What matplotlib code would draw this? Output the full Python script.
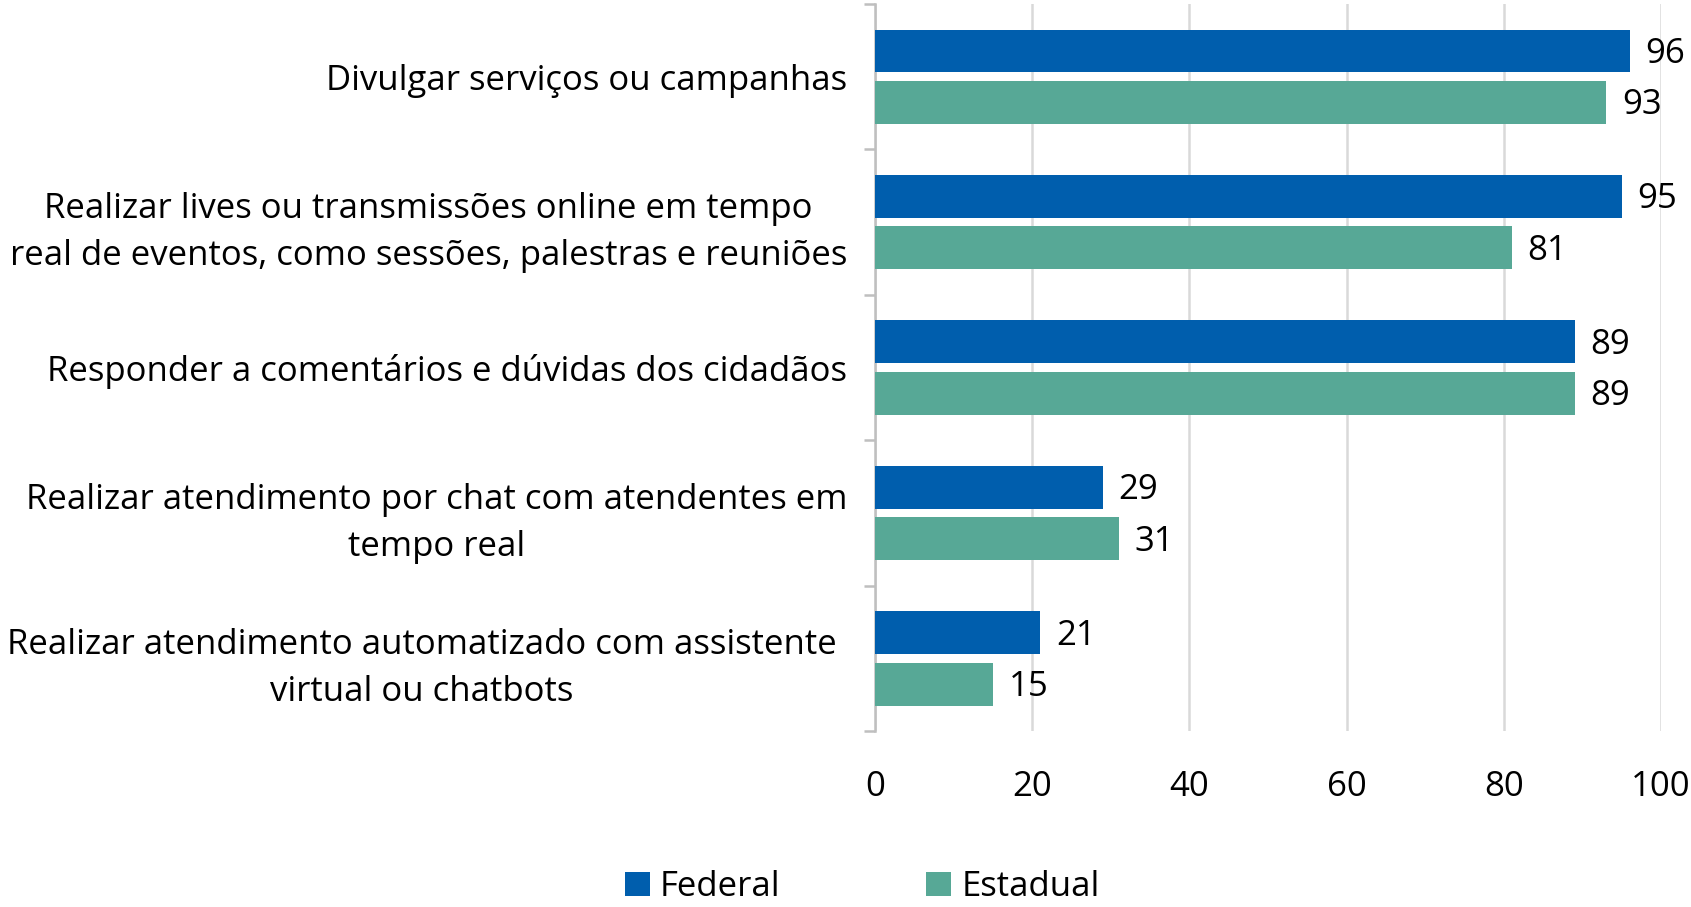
import matplotlib
matplotlib.use("Agg")
import matplotlib.pyplot as plt
import matplotlib.transforms as mtransforms
import numpy as np

plt.rcParams['font.family'] = ['Open Sans', 'DejaVu Sans']

categories = [
    "Divulgar serviços ou campanhas",
    "Realizar lives ou transmissões online em tempo\nreal de eventos, como sessões, palestras e reuniões",
    "Responder a comentários e dúvidas dos cidadãos",
    "Realizar atendimento por chat com atendentes em\ntempo real",
    "Realizar atendimento automatizado com assistente\nvirtual ou chatbots",
]
federal = [96, 95, 89, 29, 21]
estadual = [93, 81, 89, 31, 15]

c_fed = "#005EAD"
c_est = "#57A896"
fs = 25

fig = plt.figure(figsize=(16.91, 9.07), dpi=100)
ax = fig.add_axes([0.5175, 0.194, 0.4648, 0.8015])

y = np.arange(len(categories))
h = 0.295
off = 0.177
ax.barh(y - off, federal, height=h, color=c_fed, label="Federal", zorder=3)
ax.barh(y + off, estadual, height=h, color=c_est, label="Estadual", zorder=3)

for i in range(len(categories)):
    ax.text(federal[i] + 2.0, y[i] - off + 0.02, str(federal[i]), va="center", ha="left", fontsize=fs)
    ax.text(estadual[i] + 2.0, y[i] + off + 0.02, str(estadual[i]), va="center", ha="left", fontsize=fs)

ax.set_xlim(0, 100)
ax.set_ylim(len(categories) - 0.5, -0.5)
ax.set_xticks([0, 20, 40, 60, 80, 100])
ax.tick_params(axis="x", length=0, labelsize=fs, pad=28)
ax.xaxis.grid(True, color="#d9d9d9", linewidth=1.8, zorder=0)

# group boundary ticks on the left, labels at the group centres
ax.set_yticks(np.arange(len(categories) + 1) - 0.5)
ax.set_yticklabels([])
ax.set_yticks(y, minor=True)
ax.set_yticklabels(categories, minor=True, fontsize=fs, ha="right", multialignment="center")
ax.tick_params(axis="y", which="major", length=8, width=1.8, color="#bfbfbf")
ax.tick_params(axis="y", which="minor", length=0, pad=20)
for lbl in ax.get_yticklabels(minor=True):
    lbl.set_linespacing(1.5)
last = ax.get_yticklabels(minor=True)[-1]
last.set_transform(last.get_transform() + mtransforms.ScaledTranslation(-11 / 100, 0, fig.dpi_scale_trans))

for s in ["top", "right", "bottom"]:
    ax.spines[s].set_visible(False)
ax.spines["left"].set_color("#bfbfbf")
ax.spines["left"].set_linewidth(1.8)

fig.legend(loc="center", bbox_to_anchor=(0.51, 0.022), ncol=2, frameon=False, fontsize=fs,
           handlelength=0.7, handleheight=0.7, handletextpad=0.3, columnspacing=4.2,
           borderpad=0.1)

fig.savefig("out.png", dpi=100)
